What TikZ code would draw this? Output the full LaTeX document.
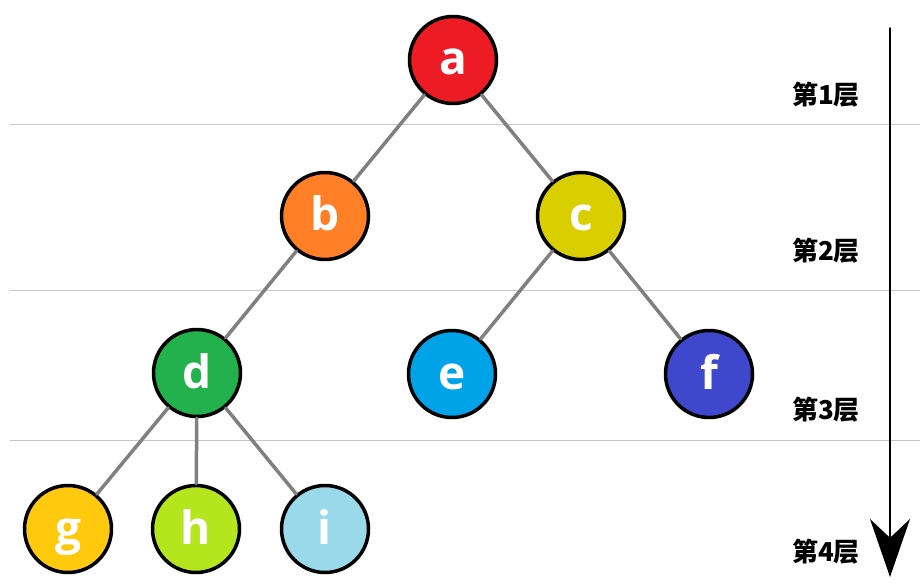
\documentclass[tikz,border=0pt]{standalone}
\usepackage{fontspec}
\setmainfont{Open Sans}
\newfontfamily\cjk{Noto Sans CJK SC}
\usetikzlibrary{arrows.meta}
\definecolor{ca}{HTML}{ED1C24}
\definecolor{cb}{HTML}{FF7F27}
\definecolor{cc}{HTML}{D9CF00}
\definecolor{cd}{HTML}{22B14C}
\definecolor{ce}{HTML}{00A2E8}
\definecolor{cf}{HTML}{3F48CC}
\definecolor{cg}{HTML}{FFC90E}
\definecolor{ch}{HTML}{B5E61D}
\definecolor{ci}{HTML}{99D9EA}
\begin{document}
\begin{tikzpicture}[x=1pt,y=-1pt,line join=round,line cap=round,
	vertex/.style={circle,draw=black,line width=3.5pt,minimum size=87pt,inner sep=0pt,text=white,
		font=\fontsize{46}{46}\selectfont\bfseries,text height=35pt,text depth=5pt},
	branch/.style={draw=black!50,line width=3.5pt},
	layer/.style={font=\cjk\bfseries\fontsize{26}{26}\selectfont},
	sep/.style={draw=black!22,line width=1pt}]
	\useasboundingbox (0,0) rectangle (920,585);
	\draw[sep] (10,125)--(920,125);
	\draw[sep] (10,290)--(920,290);
	\draw[sep] (10,440)--(920,440);
	\node[vertex,fill=ca] (a) at (453,60) {a};
	\node[vertex,fill=cb] (b) at (325,216) {b};
	\node[vertex,fill=cc] (c) at (581,216) {c};
	\node[vertex,fill=cd] (d) at (197,373) {d};
	\node[vertex,fill=ce] (e) at (452,374) {e};
	\node[vertex,fill=cf] (f) at (709,374) {f};
	\node[vertex,fill=cg] (g) at (68,529) {g};
	\node[vertex,fill=ch] (h) at (196,529) {h};
	\node[vertex,fill=ci] (i) at (325,529) {i};
	\draw[branch] (a)--(b) (a)--(c);
	\draw[branch] (b)--(d) (c)--(e) (c)--(f);
	\draw[branch] (d)--(g) (d)--(h) (d)--(i);
	\node[layer] (l1) at (826,95) {第1层};
	\node[layer] (l2) at (826,251) {第2层};
	\node[layer] (l3) at (826,410) {第3层};
	\node[layer] (l4) at (826,552) {第4层};
	\coordinate (top) at (890,28);
	\coordinate (bottom) at (890,577);
	\draw[line width=1.5pt,-{Stealth[length=58pt,width=40pt]}] (top)--(bottom);
\end{tikzpicture}
\end{document}
